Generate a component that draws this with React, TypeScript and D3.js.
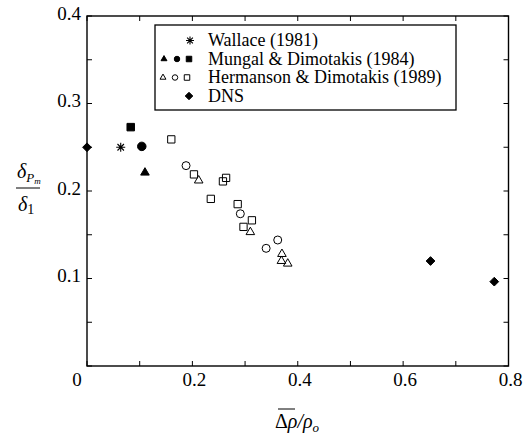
import React from "react";
import * as d3 from "d3";

// Peak-location thickness ratio vs. mean density ratio
const wallaceX = [0.064];
const wallaceY = [0.25];

const mungalTriX = [0.11];
const mungalTriY = [0.221];
const mungalCircX = [0.104];
const mungalCircY = [0.251];
const mungalSqX = [0.083];
const mungalSqY = [0.273];

const hermTriX = [0.212, 0.31, 0.37, 0.369, 0.381];
const hermTriY = [0.212, 0.153, 0.128, 0.12, 0.117];
const hermCircX = [0.188, 0.291, 0.362, 0.34];
const hermCircY = [0.229, 0.174, 0.144, 0.1345];
const hermSqX = [0.16, 0.203, 0.235, 0.258, 0.264, 0.286, 0.297, 0.313];
const hermSqY = [0.259, 0.219, 0.191, 0.211, 0.215, 0.185, 0.159, 0.1665];

const dnsX = [0.0, 0.652, 0.773];
const dnsY = [0.25, 0.12, 0.0964];

const xTickLabels = ["0", "0.2", "0.4", "0.6", "0.8"];
const yTickLabels = ["0.1", "0.2", "0.3", "0.4"];

const legendLabels = [
  "Wallace (1981)",
  "Mungal & Dimotakis (1984)",
  "Hermanson & Dimotakis (1989)",
  "DNS",
];

const W = 525;
const H = 438;
const FONT = "'Liberation Serif', 'DejaVu Serif', serif";

const x = d3.scaleLinear().domain([0, 0.8]).range([87, 508.5]);
const y = d3.scaleLinear().domain([0, 0.4]).range([366, 16]);

const zip = (xs: number[], ys: number[]) => xs.map((v, i) => [v, ys[i]] as [number, number]);

type Shape = "tri" | "circ" | "sq" | "diam" | "star";

function markerPath(shape: Shape, s: number): string {
  const h = s / 2;
  switch (shape) {
    case "sq":
      return `M${-h},${-h}H${h}V${h}H${-h}Z`;
    case "diam": {
      const r = h * 1.25;
      return `M0,${-r}L${r},0L0,${r}L${-r},0Z`;
    }
    case "tri": {
      const r = s * 0.62;
      return d3.symbol(d3.symbolTriangle, r * r * 1.3)() as string;
    }
    case "circ":
      return d3.symbol(d3.symbolCircle, Math.PI * h * h)() as string;
    case "star": {
      const r = h;
      const d = r * 0.72;
      return `M${-r},0H${r}M0,${-r}V${r}M${-d},${-d}L${d},${d}M${-d},${d}L${d},${-d}`;
    }
  }
}

function Marker({ shape, filled, size, cx, cy }: { shape: Shape; filled: boolean; size: number; cx: number; cy: number }) {
  const isStar = shape === "star";
  return (
    <path
      d={markerPath(shape, size)}
      transform={`translate(${cx},${cy})`}
      fill={filled && !isStar ? "#000" : "#fff"}
      fillOpacity={filled || isStar ? 1 : 0}
      stroke="#000"
      strokeWidth={isStar ? 1.1 : 1}
    />
  );
}

export default function App() {
  const xTicks = d3.range(0, 9).map((i) => i / 10);
  const yTicks = d3.range(0, 9).map((i) => i * 0.05);
  const [x0, x1] = x.range();
  const [y0, y1] = y.range();
  const tl = 5;

  const series: { pts: [number, number][]; shape: Shape; filled: boolean; size: number }[] = [
    { pts: zip(wallaceX, wallaceY), shape: "star", filled: false, size: 9 },
    { pts: zip(mungalTriX, mungalTriY), shape: "tri", filled: true, size: 8 },
    { pts: zip(mungalCircX, mungalCircY), shape: "circ", filled: true, size: 8.5 },
    { pts: zip(mungalSqX, mungalSqY), shape: "sq", filled: true, size: 7.5 },
    { pts: zip(hermTriX, hermTriY), shape: "tri", filled: false, size: 8 },
    { pts: zip(hermCircX, hermCircY), shape: "circ", filled: false, size: 8 },
    { pts: zip(hermSqX, hermSqY), shape: "sq", filled: false, size: 7.3 },
    { pts: zip(dnsX, dnsY), shape: "diam", filled: true, size: 7 },
  ];

  // legend symbol rows
  const legendRows: { marks: { shape: Shape; filled: boolean; lx: number }[] }[] = [
    { marks: [{ shape: "star", filled: false, lx: 190 }] },
    {
      marks: [
        { shape: "tri", filled: true, lx: 164 },
        { shape: "circ", filled: true, lx: 177 },
        { shape: "sq", filled: true, lx: 189 },
      ],
    },
    {
      marks: [
        { shape: "tri", filled: false, lx: 163 },
        { shape: "circ", filled: false, lx: 175 },
        { shape: "sq", filled: false, lx: 187 },
      ],
    },
    { marks: [{ shape: "diam", filled: true, lx: 189 }] },
  ];
  const legendBaselines = [46, 64.5, 83, 101.5];

  return (
    <svg
      width={W}
      height={H}
      style={{ position: "absolute", left: 0, top: 0, background: "#fff", fontFamily: FONT }}
    >
      <rect x={0} y={0} width={W} height={H} fill="#fff" />

      {/* ticks on all four sides, pointing inward */}
      <g stroke="#000" strokeWidth={1}>
        {xTicks.map((t) => (
          <g key={`xt${t}`}>
            <line x1={x(t)} x2={x(t)} y1={y0} y2={y0 - tl} />
            <line x1={x(t)} x2={x(t)} y1={y1} y2={y1 + tl} />
          </g>
        ))}
        {yTicks.map((t) => (
          <g key={`yt${t}`}>
            <line x1={x0} x2={x0 + tl} y1={y(t)} y2={y(t)} />
            <line x1={x1} x2={x1 - tl} y1={y(t)} y2={y(t)} />
          </g>
        ))}
      </g>
      <rect x={x0} y={y1} width={x1 - x0} height={y0 - y1} fill="none" stroke="#000" strokeWidth={1.4} />

      {/* tick labels */}
      <g fill="#000" style={{ fontFamily: FONT, fontSize: 19 }}>
        {xTickLabels.map((lab) => {
          const v = +lab;
          return (
            <text key={`xl${lab}`} x={v === 0 ? x(v) - 10 : x(v) + 2} y={386} textAnchor="middle">
              {lab}
            </text>
          );
        })}
        {yTickLabels.map((lab) => (
          <text key={`yl${lab}`} x={81} y={y(+lab) - 3} textAnchor="end" dominantBaseline="central">
            {lab}
          </text>
        ))}
      </g>

      {/* axis titles */}
      <g fill="#000" style={{ fontFamily: FONT, fontSize: 20 }}>
        <text x={297} y={428} textAnchor="middle">
          <tspan>Δ</tspan>
          <tspan fontStyle="italic">ρ</tspan>
          <tspan fontStyle="italic">/ρ</tspan>
          <tspan fontStyle="italic" fontSize={13} dy={4}>o</tspan>
        </text>
        <line x1={278} x2={295} y1={409} y2={409} stroke="#000" strokeWidth={1} />

        <text x={17} y={178} fontStyle="italic">
          δ
          <tspan fontSize={13} dy={4}>P</tspan>
          <tspan fontSize={9} dy={2}>m</tspan>
        </text>
        <line x1={16} x2={40} y1={188} y2={188} stroke="#000" strokeWidth={1} />
        <text x={18} y={211} fontStyle="italic">
          δ<tspan fontStyle="normal" fontSize={14} dy={3}>1</tspan>
        </text>
      </g>

      {/* data markers */}
      {series.map((s, si) =>
        s.pts.map(([vx, vy], i) => (
          <Marker key={`m${si}-${i}`} shape={s.shape} filled={s.filled} size={s.size} cx={x(vx)} cy={y(vy)} />
        ))
      )}

      {/* legend */}
      <rect x={155} y={25} width={301} height={85} fill="#fff" stroke="#000" strokeWidth={1.3} />
      {legendRows.map((row, ri) => (
        <g key={`lr${ri}`}>
          {row.marks.map((m, mi) => (
            <Marker
              key={`lm${ri}-${mi}`}
              shape={m.shape}
              filled={m.filled}
              size={m.shape === "diam" ? 6 : m.shape === "star" ? 8 : 5.5}
              cx={m.lx}
              cy={legendBaselines[ri] - 5.5}
            />
          ))}
          <text x={208} y={legendBaselines[ri]} fill="#000" style={{ fontFamily: FONT, fontSize: 18 }}>
            {legendLabels[ri]}
          </text>
        </g>
      ))}
    </svg>
  );
}
